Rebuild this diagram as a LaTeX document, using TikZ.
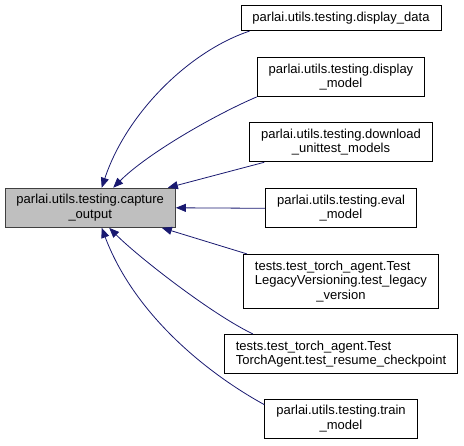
\documentclass[tikz,border=0pt]{standalone}
\usepackage{fontspec}
\setmainfont{Liberation Sans}
\usepackage{xcolor}
\usepackage{tikz}
\usetikzlibrary{arrows.meta,calc}
\definecolor{cl}{HTML}{191970}
\definecolor{cf}{HTML}{BFBFBF}
\definecolor{cd}{HTML}{404040}
\tikzset{
  fnbox/.style={draw=black, fill=white, line width=0.9pt, inner xsep=11.5pt,
    inner ysep=6.3pt, align=center, font=\fontsize{13}{14.5}\selectfont},
  callee/.style={fnbox, draw=cd, fill=cf},
  caller/.style={cl, line width=0.8pt, -{Triangle[length=10pt,width=8pt]}}
}

\begin{document}
\begin{tikzpicture}[x=1pt, y=1pt]
  \useasboundingbox (0,0) rectangle (464,446);
  \node[callee] (capture) at (90.2,238.2) {parlai.utils.testing.capture\\\_output};
  \node[fnbox] (dispdata) at (341,427.7) {parlai.utils.testing.display\_data};
  \node[fnbox] (dispmodel) at (341,369.1) {parlai.utils.testing.display\\\_model};
  \node[fnbox] (download) at (341,303.7) {parlai.utils.testing.download\\\_unittest\_models};
  \node[fnbox] (evalmodel) at (341,237.7) {parlai.utils.testing.eval\\\_model};
  \node[fnbox, align=left] (legacy) at (341,164.8)
    {tests.test\_torch\_agent.Test\\LegacyVersioning.test\_legacy\\\hfill\_version\hfill\mbox{}};
  \node[fnbox, align=left] (resume) at (341,92)
    {tests.test\_torch\_agent.Test\\TorchAgent.test\_resume\_checkpoint};
  \node[fnbox] (trainmodel) at (341,27.3) {parlai.utils.testing.train\\\_model};

  \draw[caller] ($(dispdata.south west)+(9,0)$) .. controls +(-60,-20) and +(25,75) .. ($(capture.north)+(11.5,0)$);
  \draw[caller] (dispmodel.south west) .. controls +(-40,-17) and +(35,35) .. ($(capture.north)+(23,0)$);
  \draw[caller] ($(download.south west)+(15,0)$) -- ($(capture.north east)+(-8,0)$);
  \draw[caller] (evalmodel.west) -- (capture.east);
  \draw[caller] ($(legacy.north west)+(4,0)$) -- ($(capture.south east)+(-14,0)$);
  \draw[caller] ($(resume.north west)+(29,0)$) .. controls +(-40,19) and +(30,-30) .. ($(capture.south)+(19,0)$);
  \draw[caller] ($(trainmodel.north west)+(0,-6)$) .. controls +(-60,33) and +(32,-85) .. ($(capture.south)+(11.5,0)$);
\end{tikzpicture}
\end{document}
